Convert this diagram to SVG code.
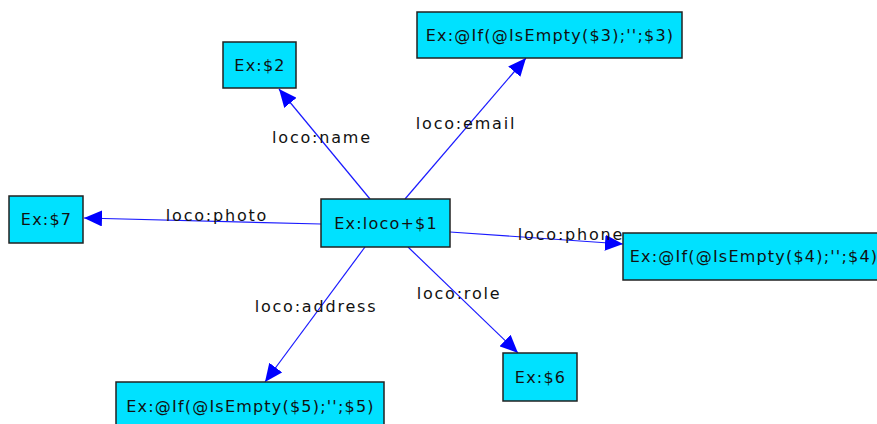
<svg xmlns="http://www.w3.org/2000/svg" width="877" height="424" viewBox="0 0 877 424">
<defs>
<style>
.node rect{fill:#00e1ff;stroke:#222;stroke-width:1.5}
.node text{font-family:"DejaVu Sans",sans-serif;font-size:16px;letter-spacing:1.2px;fill:#111;text-anchor:middle;dominant-baseline:central}
.edge line{stroke:#1a1aff;stroke-width:1.2}
.lbl{font-family:"DejaVu Sans",sans-serif;font-size:16px;letter-spacing:1.8px;fill:#111;text-anchor:middle}
</style>
<marker id="arr" viewBox="0 0 18 16" refX="18" refY="8" markerWidth="18" markerHeight="16" markerUnits="userSpaceOnUse" orient="auto">
<path d="M0,0 L18,8 L0,16 Z" fill="#0000ff"/>
</marker>
</defs>
<rect width="877" height="424" fill="#fff"/>
<g id="connectors" class="edge">
<line x1="370" y1="199" x2="279" y2="89" marker-end="url(#arr)"/>
<line x1="405" y1="199" x2="526" y2="58" marker-end="url(#arr)"/>
<line x1="321" y1="224" x2="84" y2="218" marker-end="url(#arr)"/>
<line x1="450" y1="232" x2="623" y2="244" marker-end="url(#arr)"/>
<line x1="365" y1="247" x2="265" y2="382" marker-end="url(#arr)"/>
<line x1="408" y1="247" x2="518" y2="353" marker-end="url(#arr)"/>
</g>
<g id="labels">
<text class="lbl" x="322" y="143">loco:name</text>
<text class="lbl" x="466" y="129">loco:email</text>
<text class="lbl" x="217" y="221">loco:photo</text>
<text class="lbl" x="571" y="240">loco:phone</text>
<text class="lbl" x="316" y="312">loco:address</text>
<text class="lbl" x="459" y="299">loco:role</text>
</g>
<g id="n1" class="node"><rect x="321" y="199" width="129" height="48"/><text x="386" y="223">Ex:loco+$1</text></g>
<g id="n2" class="node"><rect x="223" y="42" width="73" height="46"/><text x="260" y="65">Ex:$2</text></g>
<g id="n3" class="node"><rect x="417" y="12" width="265" height="46"/><text x="550" y="35">Ex:@If(@IsEmpty($3);'';$3)</text></g>
<g id="n4" class="node"><rect x="623" y="233" width="265" height="47"/><text x="754" y="256.5">Ex:@If(@IsEmpty($4);'';$4)</text></g>
<g id="n5" class="node"><rect x="116" y="382" width="268" height="46"/><text x="250.5" y="406">Ex:@If(@IsEmpty($5);'';$5)</text></g>
<g id="n6" class="node"><rect x="503" y="353" width="74" height="48"/><text x="540.5" y="377">Ex:$6</text></g>
<g id="n7" class="node"><rect x="9" y="196" width="74" height="47"/><text x="46.5" y="219.5">Ex:$7</text></g>
</svg>
